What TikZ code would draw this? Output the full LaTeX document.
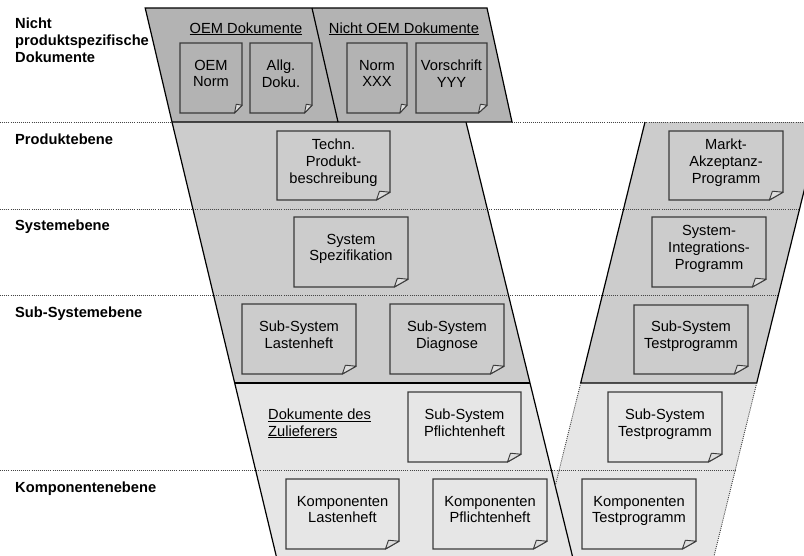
\documentclass[tikz,border=0pt]{standalone}
\usepackage{fontspec}
\setmainfont{Liberation Sans}
\usetikzlibrary{calc}
\definecolor{topgray}{HTML}{B3B3B3}
\definecolor{midgray}{HTML}{CCCCCC}
\definecolor{lightgray2}{HTML}{E6E6E6}
\definecolor{foldgray}{HTML}{DDDDDD}
\definecolor{docline}{HTML}{3A3A3A}
\definecolor{dotline}{HTML}{444444}
\newcommand\docfont{\fontsize{14.67pt}{16.7pt}\selectfont}
\newcommand\mkdoc[7]{%
  \filldraw[docedge, fill=#6]
    ({#2-#4/2},{#3-#5/2}) -- ({#2+#4/2},{#3-#5/2}) -- ({#2+#4/2},{#3+#5/2-7.8})
    -- ({#2+#4/2-0.12*#4},{#3+#5/2}) -- ({#2-#4/2},{#3+#5/2}) -- cycle;
  \filldraw[docfold]
    ({#2+#4/2},{#3+#5/2-7.8}) -- ({#2+#4/2-0.093*#4},{#3+#5/2-8.8})
    -- ({#2+#4/2-0.12*#4},{#3+#5/2}) -- cycle;
  \node[doctext] (#1) at (#2,{#3-2}) {#7};
}
\tikzset{
  bandedge/.style={draw=black, line width=1.2pt},
  dotl/.style={draw=dotline, line width=0.9pt, dash pattern=on 1pt off 1.1pt},
  docedge/.style={draw=docline, line width=1.2pt},
  docfold/.style={draw=docline, line width=0.9pt, fill=foldgray, line join=round},
  doctext/.style={align=center, inner sep=0pt, font=\docfont,
    execute at begin node=\strut, execute at end node=\strut},
  lvl/.style={anchor=base west, inner sep=0pt, font=\docfont\bfseries},
  grp/.style={anchor=base, inner sep=0pt, font=\docfont},
}
\begin{document}
\begin{tikzpicture}[x=1pt,y=-1pt]
\useasboundingbox (0,0) rectangle (804,555);
\clip (0,0) rectangle (804,555);
% band corner coordinates
\coordinate (LT) at (172,122);   \coordinate (RT) at (466,122);
\coordinate (LM) at (234.6,383); \coordinate (RM) at (529.9,383);
\coordinate (LB) at (277.2,560); \coordinate (RB) at (573.4,560);
\coordinate (rLT) at (645,122);  \coordinate (rRT) at (821,122);
\coordinate (rLM) at (580.7,383);\coordinate (rRM) at (756.7,383);
\coordinate (rLB) at (537.1,560);\coordinate (rRB) at (713.1,560);
\coordinate (X) at (555.2,486);
% fills
\fill[midgray] (LT) -- (RT) -- (RM) -- (LM) -- cycle;
\fill[lightgray2] (LM) -- (RM) -- (RB) -- (LB) -- cycle;
\fill[midgray] (rLT) -- (rRT) -- (rRM) -- (rLM) -- cycle;
\fill[lightgray2] (rLM) -- (rRM) -- (rRB) -- (rLB) -- cycle;
\fill[lightgray2] (551.3,470) -- (559.2,470) -- (X) -- cycle;
% dotted level lines
\draw[dotl] (0,122) -- (LT);
\draw[dotl] (512,122) -- (804,122);
\draw[dotl] (0,209) -- (799.6,209);
\draw[dotl] (0,295) -- (778.4,295);
\draw[dotl] (0,470) -- (735.2,470);
% band edges
\draw[bandedge] (LT) -- (LB);
\draw[bandedge] (RT) -- (RB);
\draw[bandedge] (LM) -- (RM);
\draw[bandedge] (rLT) -- (rLM) -- (rRM) -- (rRT);
\draw[dotl] (rLM) -- (X);
\draw[dotl] (rRM) -- (rRB);
% top trapezoid
\filldraw[bandedge, fill=topgray] (145.2,8) -- (487,8) -- (512,122) -- (LT) -- cycle;
\draw[bandedge] (312,8) -- (338,122);
\node[grp] (oemlbl) at (246,33) {\underline{OEM Dokumente}};
\node[grp] (noemlbl) at (404,33) {\underline{Nicht OEM Dokumente}};
% documents
\mkdoc{oemnorm}{211}{78}{62}{70}{topgray}{OEM\\Norm}
\mkdoc{allg}{281}{78}{62}{70}{topgray}{Allg.\\Doku.}
\mkdoc{normxxx}{377}{78}{60}{70}{topgray}{Norm\\XXX}
\mkdoc{vorschrift}{451.5}{78}{71}{70}{topgray}{Vorschrift\\YYY}
\mkdoc{techn}{333.5}{165.5}{113}{69}{midgray}{Techn.\\Produkt-\\beschreibung}
\mkdoc{sysspez}{351}{252}{114}{70}{midgray}{System\\Spezifikation}
\mkdoc{sslasten}{299}{339}{114}{70}{midgray}{Sub-System\\Lastenheft}
\mkdoc{ssdiag}{447}{339}{114}{70}{midgray}{Sub-System\\Diagnose}
\mkdoc{sspflicht}{464.5}{427}{113}{70}{lightgray2}{Sub-System\\Pflichtenheft}
\mkdoc{klasten}{342.5}{514}{113}{70}{lightgray2}{Komponenten\\Lastenheft}
\mkdoc{kpflicht}{490}{514}{114}{70}{lightgray2}{Komponenten\\Pflichtenheft}
\mkdoc{markt}{726}{165.5}{114}{69}{midgray}{Markt-\\Akzeptanz-\\Programm}
\mkdoc{sysint}{709}{252}{114}{70}{midgray}{System-\\Integrations-\\Programm}
\mkdoc{sstestA}{691}{339.5}{114}{69}{midgray}{Sub-System\\Testprogramm}
\mkdoc{sstestB}{665}{427}{114}{70}{lightgray2}{Sub-System\\Testprogramm}
\mkdoc{ktest}{639}{514}{114}{70}{lightgray2}{Komponenten\\Testprogramm}
\node[inner sep=0pt, font=\docfont, align=left, anchor=north west] (zuliefer) at (268,408.5)
  {\underline{Dokumente des}\\\underline{Zulieferers}};
% level labels
\node[font=\docfont\bfseries, align=left, anchor=north west, inner sep=0pt] (nps) at (15,17.8)
  {Nicht\\produktspezifische\\Dokumente};
\node[lvl] (prod) at (15,144) {Produktebene};
\node[lvl] (sys) at (15,230.5) {Systemebene};
\node[lvl] (subsys) at (15,317) {Sub-Systemebene};
\node[lvl] (komp) at (15,492) {Komponentenebene};
\end{tikzpicture}
\end{document}
